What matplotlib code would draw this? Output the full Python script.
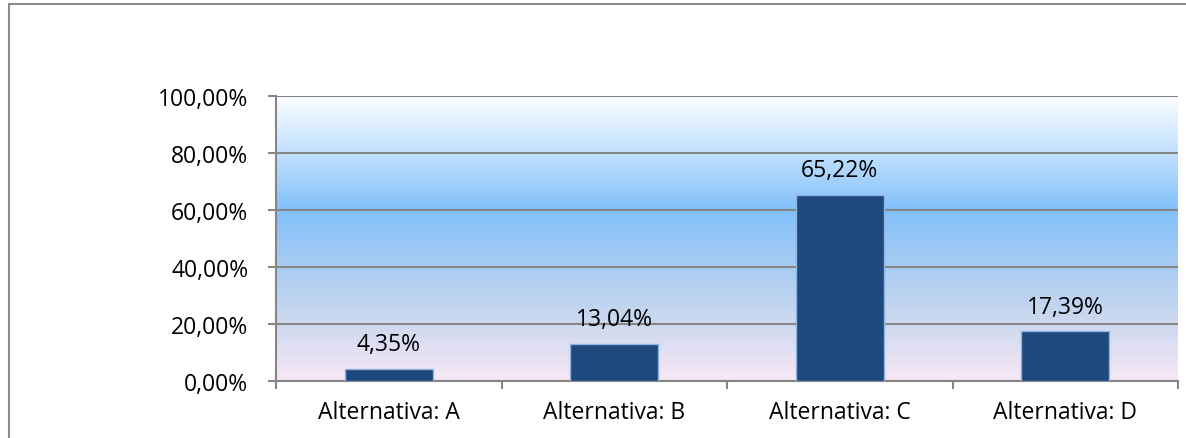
import matplotlib.pyplot as plt
import numpy as np
from matplotlib.colors import LinearSegmentedColormap
from matplotlib.patches import Rectangle

categorias = ['Alternativa: A', 'Alternativa: B', 'Alternativa: C', 'Alternativa: D']
valores = [4.35, 13.04, 65.22, 17.39]
rotulos = ['4,35%', '13,04%', '65,22%', '17,39%']
yticks = [0, 20, 40, 60, 80, 100]
ytick_labels = ['0,00%', '20,00%', '40,00%', '60,00%', '80,00%', '100,00%']

plt.rcParams['font.family'] = ['Open Sans', 'DejaVu Sans']
fs = 16.5

fig = plt.figure(figsize=(11.86, 4.39), dpi=100)
ax = fig.add_axes([276/1186, 1-382/439, (1178-276)/1186, (382-97)/439])

# moldura externa
fig.patches.append(Rectangle((9/1186, -0.1), 1.2, 1-5/439+0.1, transform=fig.transFigure,
                             fill=False, edgecolor='#8c8c8c', linewidth=1.5, zorder=0))

# fundo em degrade
grad = LinearSegmentedColormap.from_list('fundo', [
    (0.0, '#f9e8f6'), (0.2, '#cdd9ef'), (0.4, '#a9ccf2'),
    (0.6, '#82c0fb'), (0.8, '#c0e0ff'), (1.0, '#fdfeff')])
ax.imshow(np.linspace(0, 1, 256).reshape(-1, 1), cmap=grad, aspect='auto',
          extent=(-0.5, 3.5, 0, 100), origin='lower', zorder=0)

x = np.arange(len(categorias))
ax.bar(x, valores, width=0.39, color='#1f497d', edgecolor='#8eb4e3', linewidth=1, zorder=3)
for xi, v, r in zip(x, valores, rotulos):
    ax.text(xi, v + 4.5, r, ha='center', va='bottom', fontsize=fs, color='black', zorder=4)

ax.set_xlim(-0.5, 3.5)
ax.set_ylim(0, 100)
ax.set_yticks(yticks)
ax.set_yticklabels(ytick_labels, fontsize=fs)
ax.set_xticks(np.arange(-0.5, 4.0, 1.0))
ax.set_xticklabels([])
ax.set_xticks(x, minor=True)
ax.set_xticklabels(categorias, minor=True, fontsize=fs)
ax.tick_params(axis='x', which='minor', length=0, pad=14)
ax.tick_params(axis='x', which='major', length=6, width=1.5, color='#868686')
ax.tick_params(axis='y', length=6, width=1.5, color='#868686', pad=14)
ax.grid(axis='y', color='#868686', linewidth=1.5, zorder=1)
ax.set_axisbelow(True)
for s in ['top', 'right']:
    ax.spines[s].set_visible(False)
for s in ['left', 'bottom']:
    ax.spines[s].set_color('#868686')
    ax.spines[s].set_linewidth(1.5)

fig.savefig('out.png', dpi=100)
